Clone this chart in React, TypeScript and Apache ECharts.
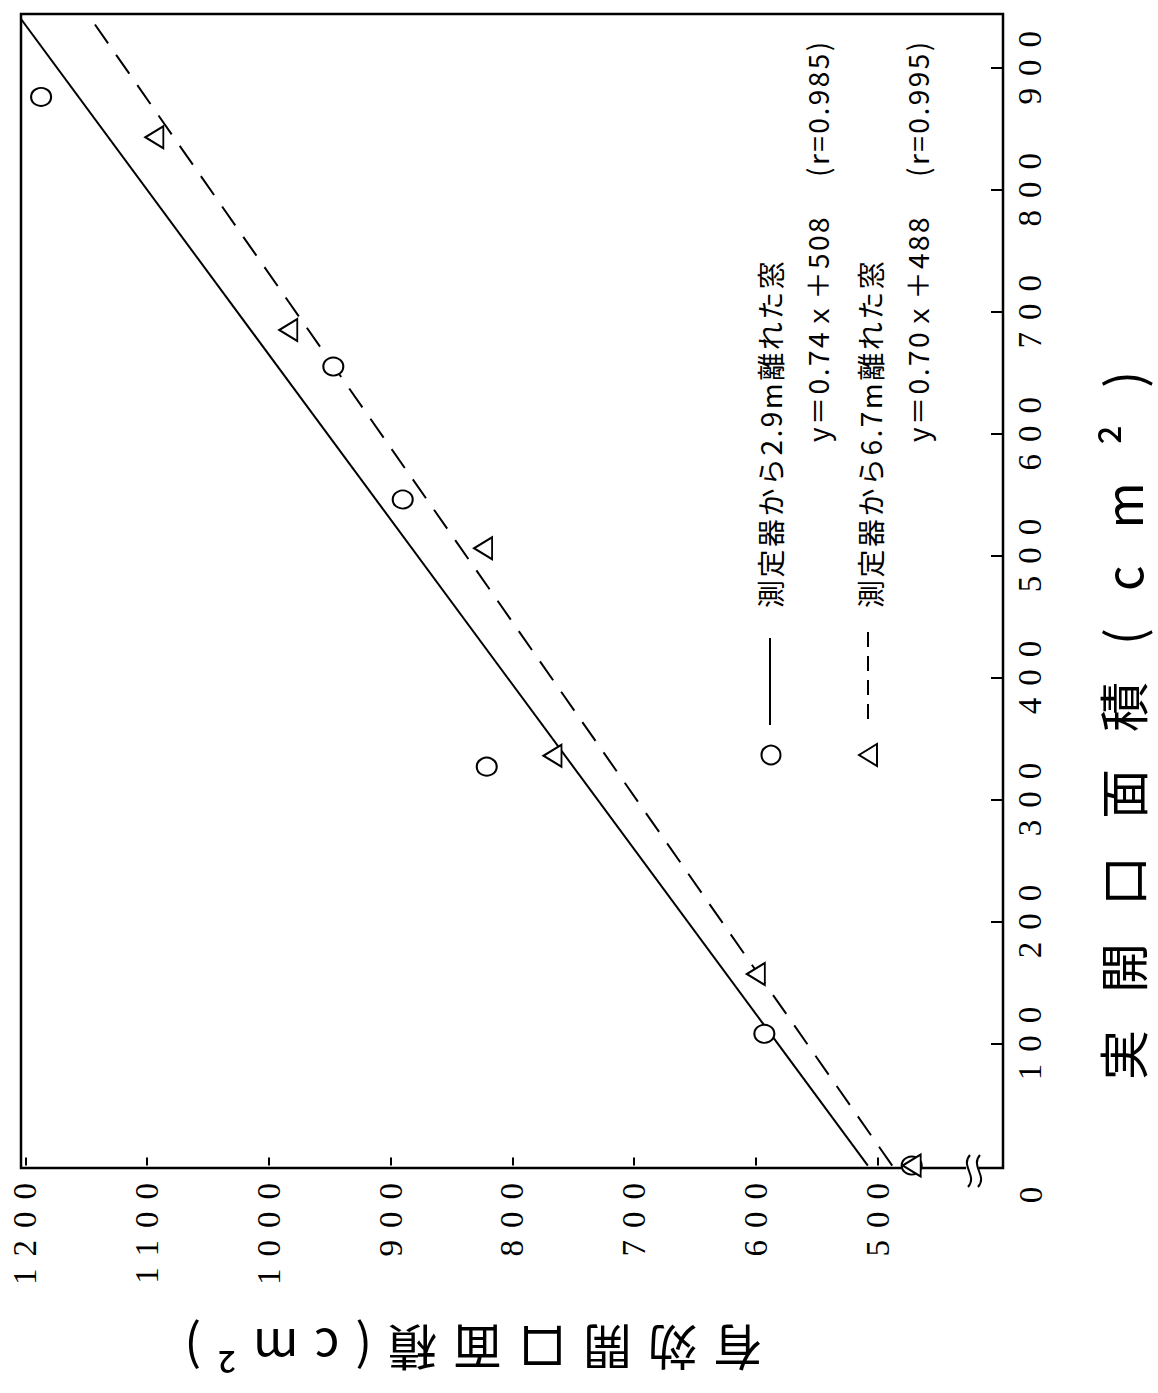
import React, { useEffect, useRef } from "react";
import * as echarts from "echarts";

// ---- data ----
const realTicks = [100, 200, 300, 400, 500, 600, 700, 800, 900];
const effTicks = [500, 600, 700, 800, 900, 1000, 1100, 1200];

const seriesNames = ["測定器から2.9m離れた窓", "測定器から6.7m離れた窓"];
// series 1: circles (2.9 m)
const circleReal = [0, 108, 327, 546, 655, 876];
const circleEff = [472, 593, 821, 890, 947, 1187];
// series 2: triangles (6.7 m)
const triReal = [0, 157, 336, 506, 685, 843];
const triEff = [472, 600, 767, 824, 984, 1094];
// regression lines y = a x + b
const slopes = [0.74, 0.7];
const intercepts = [508, 488];
const equations = ["y＝0.74ｘ＋508", "y＝0.70ｘ＋488"];
const rValues = ["(r=0.985)", "(r=0.995)"];

const xTitle = "実開口面積(cm²)";
const yTitle = "有効開口面積(cm²)";

const effMin = 397;
const effMax = 1203.5;
const realMin = -2;
const realMax = 944;

const css = `
text[style*="Liberation Serif"] { letter-spacing: 12px; }
text[style*="50px"] { letter-spacing: 37px; }
text[style*="49px"] { letter-spacing: 16px; }
text[style*="28px"] { letter-spacing: 2.5px; }
`;

function lineData(i: number) {
  return [
    [intercepts[i], 0],
    [slopes[i] * realMax + intercepts[i], realMax],
  ];
}

function txt(text: string, x: number, y: number, rotation: number, size: number, family: string, align: string, valign = "middle") {
  return {
    type: "text",
    x,
    y,
    rotation,
    z: 100,
    style: {
      text,
      fill: "#000",
      fontSize: size,
      fontFamily: family,
      textAlign: align,
      textVerticalAlign: valign,
      align,
      verticalAlign: valign,
    },
  };
}

export default function App() {
  const ref = useRef<HTMLDivElement>(null);
  useEffect(() => {
    const chart = echarts.init(ref.current!, null, { renderer: "svg" });
    const labelFont = "Liberation Serif";
    const cjk = "Noto Sans CJK JP";
    const plain = (v: number) => String(v);
    const option: any = {
      animation: false,
      backgroundColor: "#fff",
      textStyle: { fontFamily: cjk, color: "#000" },
      grid: {
        left: 21,
        top: 14,
        width: 982,
        height: 1154,
        show: true,
        borderColor: "#000",
        borderWidth: 2.5,
        backgroundColor: "transparent",
        containLabel: false,
        outerBoundsMode: "none",
      },
      xAxis: {
        type: "value",
        inverse: true,
        min: effMin,
        max: effMax,
        position: "bottom",
        axisLine: { show: false },
        splitLine: { show: false },
        axisTick: {
          show: true,
          inside: true,
          length: 8,
          customValues: effTicks,
          lineStyle: { color: "#000", width: 2 },
        },
        axisLabel: {
          show: true,
          customValues: effTicks,
          formatter: plain,
          rotate: 90,
          margin: 3,
          color: "#000",
          fontFamily: labelFont,
          fontSize: 33,
        },
      },
      yAxis: {
        type: "value",
        min: realMin,
        max: realMax,
        position: "right",
        axisLine: { show: false },
        splitLine: { show: false },
        axisTick: {
          show: true,
          inside: true,
          length: 12,
          customValues: realTicks,
          lineStyle: { color: "#000", width: 2 },
        },
        axisLabel: {
          show: true,
          customValues: realTicks,
          formatter: plain,
          rotate: 90,
          margin: 10,
          padding: [0, 0, 0, 12],
          color: "#000",
          fontFamily: labelFont,
          fontSize: 33,
        },
      },
      series: [
        {
          type: "line",
          name: seriesNames[0],
          data: lineData(0),
          showSymbol: false,
          symbol: "none",
          silent: true,
          lineStyle: { color: "#000", width: 2, type: "solid" },
          z: 2,
        },
        {
          type: "line",
          name: seriesNames[1],
          data: lineData(1),
          showSymbol: false,
          symbol: "none",
          silent: true,
          lineStyle: { color: "#000", width: 2, type: [23, 14] },
          z: 2,
        },
        {
          type: "scatter",
          name: seriesNames[0],
          data: circleEff.map((e, i) => [e, circleReal[i]]),
          symbol: "emptyCircle",
          symbolSize: [20, 18],
          itemStyle: { color: "#000", borderColor: "#000", borderWidth: 2.2, opacity: 1 },
          z: 3,
        },
        {
          type: "scatter",
          name: seriesNames[1],
          data: triEff.map((e, i) => [e, triReal[i]]),
          symbol: "emptyTriangle",
          symbolSize: [22, 18],
          symbolRotate: 90,
          itemStyle: { color: "#000", borderColor: "#000", borderWidth: 2.2, opacity: 1 },
          z: 3,
        },
      ],
      graphic: {
        elements: [
          // axis break on the bottom frame
          { type: "rect", z: 100, shape: { x: 966, y: 1162, width: 13, height: 12 }, style: { fill: "#fff" } },
          {
            type: "bezierCurve",
            z: 101,
            shape: { x1: 970, y1: 1155, cpx1: 960, cpy1: 1166, cpx2: 978, cpy2: 1176, x2: 968, y2: 1187 },
            style: { stroke: "#000", lineWidth: 2, fill: null },
          },
          {
            type: "bezierCurve",
            z: 101,
            shape: { x1: 980, y1: 1155, cpx1: 970, cpy1: 1166, cpx2: 988, cpy2: 1176, x2: 978, y2: 1187 },
            style: { stroke: "#000", lineWidth: 2, fill: null },
          },
          // origin label
          txt("0", 1031, 1189, Math.PI / 2, 33, labelFont, "center"),
          // axis titles
          txt(xTitle, 1121, 1080, Math.PI / 2, 50, "Noto Sans CJK JP", "left"),
          txt(yTitle, 762, 1350, Math.PI, 49, "Noto Sans CJK JP", "left"),
          // legend row 1
          { type: "circle", z: 100, shape: { cx: 771, cy: 755, r: 9.5 }, style: { fill: "#fff", stroke: "#000", lineWidth: 2 } },
          { type: "line", z: 100, shape: { x1: 770, y1: 638, x2: 770, y2: 725 }, style: { stroke: "#000", lineWidth: 2 } },
          txt(seriesNames[0], 770, 608, Math.PI / 2, 28, cjk, "left"),
          txt(equations[0], 817, 442, Math.PI / 2, 28, cjk, "left"),
          txt(rValues[0], 817, 177, Math.PI / 2, 28, cjk, "left"),
          // legend row 2
          {
            type: "polygon",
            z: 100,
            shape: { points: [[859, 755], [877, 744], [877, 766]] },
            style: { fill: "#fff", stroke: "#000", lineWidth: 2 },
          },
          {
            type: "line",
            z: 100,
            shape: { x1: 868, y1: 632, x2: 868, y2: 724 },
            style: { stroke: "#000", lineWidth: 2, lineDash: [15, 9] },
          },
          txt(seriesNames[1], 870, 608, Math.PI / 2, 28, cjk, "left"),
          txt(equations[1], 917, 442, Math.PI / 2, 28, cjk, "left"),
          txt(rValues[1], 917, 177, Math.PI / 2, 28, cjk, "left"),
        ],
      },
    };
    chart.setOption(option);
    return () => chart.dispose();
  }, []);
  return (
    <>
      <style>{css}</style>
      <div
        ref={ref}
        style={{ position: "absolute", left: 0, top: 0, width: 1158, height: 1393, background: "#fff" }}
      />
    </>
  );
}
